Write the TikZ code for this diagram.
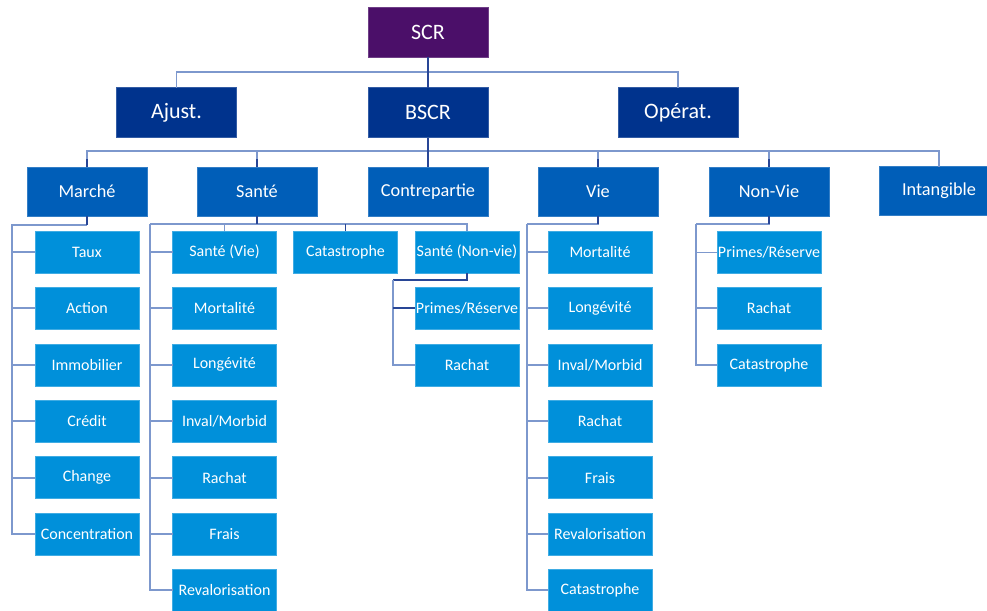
\documentclass[tikz,border=0pt]{standalone}
\usepackage{fontspec}
\setmainfont{Carlito}
\definecolor{cRoot}{RGB}{75,15,105}
\definecolor{cTwo}{RGB}{0,51,141}
\definecolor{cThree}{RGB}{0,94,184}
\definecolor{cFour}{RGB}{0,144,218}
\definecolor{cBus}{RGB}{125,152,205}
\definecolor{cDrop}{RGB}{40,70,150}
\begin{document}
\begin{tikzpicture}[x=0.75pt,y=-0.75pt,
  box/.style={inner sep=0pt,outer sep=0pt,text=white,align=center,line width=0.4pt},
  rootbox/.style={box,fill=cRoot,draw=cRoot!80!white,minimum width=90pt,minimum height=37.5pt,font=\fontsize{16.5}{18}\selectfont},
  twobox/.style={box,fill=cTwo,draw=cTwo!80!white,minimum width=90pt,minimum height=37.5pt,font=\fontsize{16.5}{18}\selectfont},
  threebox/.style={box,fill=cThree,draw=cThree!80!white,minimum width=90pt,minimum height=36.75pt,font=\fontsize{13.7}{15}\selectfont},
  fourbox/.style={box,fill=cFour,draw=cFour!75!white,minimum width=78pt,minimum height=31.5pt,font=\fontsize{12}{14}\selectfont},
  bus/.style={draw=cBus,line width=1.4pt},
  drop/.style={draw=cDrop,line width=1.4pt}]
\useasboundingbox (0,0) rectangle (987,610);
\begin{scope}
\clip (0,0) rectangle (987,610);

% top levels
\node[rootbox] (scr) at (428,32) {SCR};
\node[twobox] (ajust) at (176.5,112.5) {Ajust.};
\node[twobox] (bscr) at (428,112.5) {BSCR};
\node[twobox] (operat) at (678,112.5) {Opérat.};

% BSCR modules
\node[threebox] (marche) at (87,191.5) {Marché};
\node[threebox] (sante) at (257,191.5) {Santé};
\node[threebox] (contre) at (428,191.5) {Contrepartie};
\node[threebox] (vie) at (598,191.5) {Vie};
\node[threebox] (nonvie) at (769,191.5) {Non-Vie};
\node[threebox] (intang) at (939,191) {Intangible};

% market sub-modules
\node[fourbox] (taux) at (87,252) {Taux};
\node[fourbox] (action) at (87,308.4) {Action};
\node[fourbox] (immo) at (87,364.8) {Immobilier};
\node[fourbox] (credit) at (87,421.2) {Crédit};
\node[fourbox] (change) at (87,477.6) {Change};
\node[fourbox] (concent) at (87,534) {Concentration};

% health sub-modules
\node[fourbox] (svie) at (224.5,252) {Santé (Vie)};
\node[fourbox] (smort) at (224.5,308.4) {Mortalité};
\node[fourbox] (slong) at (224.5,364.8) {Longévité};
\node[fourbox] (sinval) at (224.5,421.2) {Inval/Morbid};
\node[fourbox] (srachat) at (224.5,477.6) {Rachat};
\node[fourbox] (sfrais) at (224.5,534) {Frais};
\node[fourbox] (sreval) at (224.5,590.4) {Revalorisation};
\node[fourbox] (scat) at (345.5,252) {Catastrophe};
\node[fourbox] (snv) at (467,252) {Santé (Non-vie)};
\node[fourbox] (snvprimes) at (467,308.4) {Primes/Réserve};
\node[fourbox] (snvrachat) at (467,364.8) {Rachat};

% life sub-modules
\node[fourbox] (vmort) at (600,252) {Mortalité};
\node[fourbox] (vlong) at (600,308.4) {Longévité};
\node[fourbox] (vinval) at (600,364.8) {Inval/Morbid};
\node[fourbox] (vrachat) at (600,421.2) {Rachat};
\node[fourbox] (vfrais) at (600,477.6) {Frais};
\node[fourbox] (vreval) at (600,534) {Revalorisation};
\node[fourbox] (vcat) at (600,590.4) {Catastrophe};

% non-life sub-modules
\node[fourbox] (nprimes) at (769,252.5) {Primes/Réserve};
\node[fourbox] (nrachat) at (769,308.4) {Rachat};
\node[fourbox] (ncat) at (769,364.8) {Catastrophe};

% SCR to second level
\coordinate (b1) at (428,72);
\draw[bus] (ajust.north) |- (b1);
\draw[bus] (operat.north) |- (b1);
\draw[drop] (scr.south) -- (b1) -- (bscr.north);

% BSCR to modules
\coordinate (b2) at (428,151);
\draw[bus] (marche.north) |- (b2);
\draw[bus] (sante.north) |- (b2);
\draw[bus] (vie.north) |- (b2);
\draw[bus] (nonvie.north) |- (b2);
\draw[bus] (intang.north) |- (b2);
\draw[drop] (bscr.south) -- (contre.north);
\draw[drop] (marche.north) -- ++(0,-8);
\draw[drop] (sante.north) -- ++(0,-8);
\draw[drop] (vie.north) -- ++(0,-8);
\draw[drop] (nonvie.north) -- ++(0,-8);

% market branch
\coordinate (mtop) at (87,225);
\coordinate (mleft) at (12,225);
\draw[bus] (mtop) -- (mleft) |- (concent.west);
\draw[drop] (marche.south) -- (mtop);
\foreach \n in {taux,action,immo,credit,change}
  \draw[bus] (mleft |- \n.west) -- (\n.west);

% health branch
\coordinate (stop) at (257,224);
\coordinate (sleft) at (150,224);
\draw[bus] (sleft) -| (snv.north);
\draw[drop] (sante.south) -- (stop);
\draw[bus] (svie.north) -- (svie.north |- stop);
\draw[drop] (scat.north) -- (scat.north |- stop);
\draw[bus] (sleft) |- (sreval.west);
\foreach \n in {svie,smort,slong,sinval,srachat,sfrais}
  \draw[bus] (sleft |- \n.west) -- (\n.west);

% health non-life branch
\coordinate (nvleft) at (393,280);
\draw[drop] (snv.south) |- (nvleft);
\draw[bus] (nvleft) |- (snvrachat.west);
\draw[drop] (nvleft |- snvprimes.west) -- (snvprimes.west);

% life branch
\coordinate (vleft) at (527,224);
\draw[bus] (vie.south) |- (vleft);
\draw[drop] (vie.south) -- ++(0,8);
\draw[bus] (vleft) |- (vcat.west);
\foreach \n in {vmort,vlong,vinval,vrachat,vfrais,vreval}
  \draw[bus] (vleft |- \n.west) -- (\n.west);

% non-life branch
\coordinate (nleft) at (696,224);
\draw[bus] (nonvie.south) |- (nleft);
\draw[drop] (nonvie.south) -- ++(0,8);
\draw[bus] (nleft) |- (ncat.west);
\foreach \n in {nprimes,nrachat}
  \draw[bus] (nleft |- \n.west) -- (\n.west);
\end{scope}
\end{tikzpicture}
\end{document}
